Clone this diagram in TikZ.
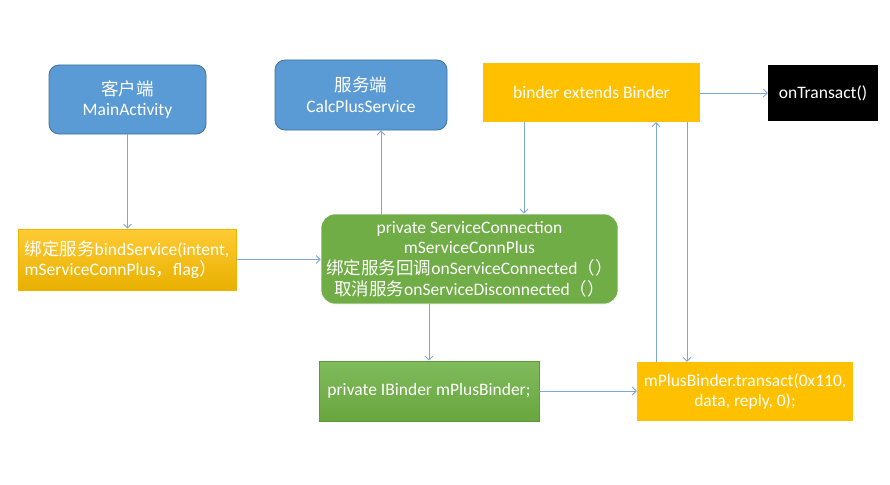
\documentclass[tikz,border=0pt]{standalone}
\usepackage{fontspec}
\setmainfont{Carlito}
\newfontfamily\cjk{Noto Sans CJK SC}
\usetikzlibrary{arrows.meta,calc}
\definecolor{bluebox}{HTML}{5B9BD5}
\definecolor{blueedge}{HTML}{41719C}
\definecolor{gold}{HTML}{FFC000}
\definecolor{goldtop}{HTML}{FFCB35}
\definecolor{goldbot}{HTML}{E8B000}
\definecolor{goldedge}{HTML}{F0B400}
\definecolor{greenbox}{HTML}{70AD47}
\definecolor{greentop}{HTML}{80BB5C}
\definecolor{greenbot}{HTML}{68A63F}
\definecolor{greenedge}{HTML}{5E9A38}
\definecolor{arrowc}{HTML}{7EA6D8}
\tikzset{
  base/.style={text=white, align=center, inner sep=2pt, font=\fontsize{17.5}{20.8}\selectfont},
  bluebx/.style={base, fill=bluebox, draw=blueedge, line width=0.8pt, rounded corners=10pt},
  goldbx/.style={base, fill=gold, draw=none},
  goldgrad/.style={base, top color=goldtop, bottom color=goldbot, draw=goldedge, line width=0.6pt},
  greenrnd/.style={base, fill=greenbox, draw=white, line width=0.6pt, rounded corners=14pt},
  greengrad/.style={base, top color=greentop, bottom color=greenbot, draw=greenedge, line width=0.6pt},
  blackbx/.style={base, fill=black},
  arr/.style={draw=arrowc, line width=0.9pt, -{Straight Barb[length=4pt,width=8pt,line width=0.9pt]}}
}
\begin{document}
\begin{tikzpicture}[x=1pt,y=-1pt]
\useasboundingbox[fill=white] (0,0) rectangle (890,484);
\node[bluebx, minimum width=157pt, minimum height=69pt] (client) at (127.5,99.5) {{\cjk 客户端}\\MainActivity};
\node[bluebx, minimum width=172pt, minimum height=70pt] (server) at (361,95) {{\cjk 服务端}\\CalcPlusService};
\node[goldgrad, minimum width=218pt, minimum height=61pt, align=left] (bind) at (127,259.5) {{\cjk 绑定服务}bindService(intent,\\mServiceConnPlus{\cjk ，}flag{\cjk ）}};
\node[greenrnd, minimum width=297pt, minimum height=90pt, inner sep=0pt] (conn) at (469.5,259) {private ServiceConnection\\mServiceConnPlus\\{\cjk 绑定服务回调}onServiceConnected{\cjk （）}\\{\cjk 取消服务}onServiceDisconnected{\cjk （）}};
\node[greengrad, minimum width=220pt, minimum height=60pt] (ibinder) at (429,391) {private IBinder mPlusBinder;};
\node[goldbx, minimum width=216pt, minimum height=59pt] (transact) at (745,391.5) {mPlusBinder.transact(0x110,\\data, reply, 0);};
\node[goldbx, minimum width=217pt, minimum height=59pt] (binderext) at (591.5,92.5) {binder extends Binder};
\node[blackbx, minimum width=110pt, minimum height=56pt] (ontrans) at (823,93) {onTransact()};
% connectors
\draw[arr] (client.south) -- (client.south |- bind.north);
\draw[arr] (bind.east) -- (bind.east -| conn.west);
\draw[arr] ([xshift=20pt]server.south |- conn.north) -- ([xshift=20pt]server.south);
\draw[arr] ([xshift=-67.5pt]binderext.south) -- ([xshift=-67.5pt]binderext.south |- conn.north);
\draw[arr] (ibinder.north |- conn.south) -- (ibinder.north);
\draw[arr] (ibinder.east) -- (ibinder.east -| transact.west);
\draw[arr] ([xshift=-89pt]transact.north) -- ([xshift=-89pt]transact.north |- binderext.south);
\draw[arr] ([xshift=95.5pt]binderext.south) -- ([xshift=95.5pt]binderext.south |- transact.north);
\draw[arr] (binderext.east |- ontrans.west) -- (ontrans.west);
\end{tikzpicture}
\end{document}
